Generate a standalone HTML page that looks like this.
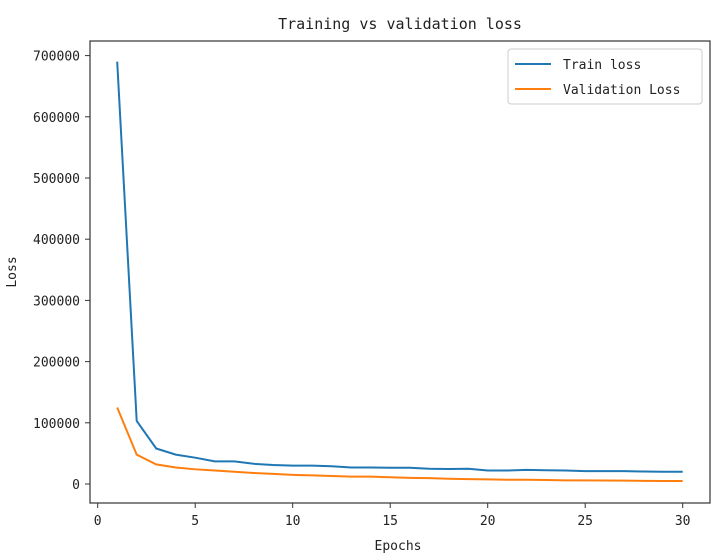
<!DOCTYPE html>
<html><head><meta charset="utf-8"><style>
body{margin:0;background:#fff;}
svg text{font-family:"DejaVu Sans Mono","Liberation Mono",monospace;fill:#222;}
</style></head><body>
<svg width="712" height="555" xmlns="http://www.w3.org/2000/svg">
<text x="400" y="29" font-size="15" text-anchor="middle">Training vs validation loss</text>
<g id="xt"></g><g id="yt"></g>
<rect x="90" y="41" width="620" height="462" fill="none" stroke="#333" stroke-width="1.2"/>
<g id="lines"></g>
<text x="398" y="550" font-size="13" text-anchor="middle">Epochs</text>
<text transform="translate(16,272) rotate(-90)" font-size="13" text-anchor="middle">Loss</text>
<g>
<rect x="508" y="49" width="194" height="55" rx="3" fill="#fff" stroke="#ccc"/>
<line x1="515" y1="64" x2="551" y2="64" stroke="#1f77b4" stroke-width="2"/>
<text x="563" y="69" font-size="13">Train loss</text>
<line x1="515" y1="89" x2="551" y2="89" stroke="#ff7f0e" stroke-width="2"/>
<text x="563" y="94" font-size="13">Validation Loss</text>
</g>
</svg>
<script>
const epochs=[1,2,3,4,5,6,7,8,9,10,11,12,13,14,15,16,17,18,19,20,21,22,23,24,25,26,27,28,29,30];
const trainLoss=[690000,103000,58000,48000,43000,37000,37000,33000,31000,30000,30000,29000,27000,27000,26500,26500,25000,24500,25000,22000,22000,23000,22500,22000,21000,21000,21000,20500,20000,20000];
const valLoss=[125000,48000,32000,27000,24000,22000,20000,18000,16500,15000,14000,13000,12000,12000,11000,10000,9500,8500,8000,7500,7000,7000,6500,6000,6000,5800,5500,5200,5000,4800];
const xTicks=[0,5,10,15,20,25,30];
const yTicks=[0,100000,200000,300000,400000,500000,600000,700000];
const NS="http://www.w3.org/2000/svg";
const xs=v=>97.7+v*(682.7-97.7)/30;
const ys=v=>484-v*(484-55.6)/700000;
const xt=document.getElementById('xt'),yt=document.getElementById('yt'),lg=document.getElementById('lines');
function mk(t,a,p){const e=document.createElementNS(NS,t);for(const k in a)e.setAttribute(k,a[k]);p.appendChild(e);return e;}
xTicks.forEach(v=>{const x=xs(v);
const l=mk('line',{x1:x,x2:x,y1:503,y2:508,stroke:'#333'},xt);


const t=mk('text',{x:x,y:525,'font-size':13,'text-anchor':'middle'},xt);t.textContent=v;

});
yTicks.forEach(v=>{const y=ys(v);
const l=mk('line',{x1:85,x2:90,y1:y,y2:y,stroke:'#333'},yt);


const t=mk('text',{x:80,y:y+5,'font-size':13,'text-anchor':'end'},yt);t.textContent=v;

});
function line(d,c,n){const p=mk('polyline',{points:epochs.map((e,i)=>xs(e)+','+ys(d[i])).join(' '),fill:'none',stroke:c,'stroke-width':2},lg);

}
line(trainLoss,'#1f77b4','train-loss-line');
line(valLoss,'#ff7f0e','validation-loss-line');
</script>
</body></html>
